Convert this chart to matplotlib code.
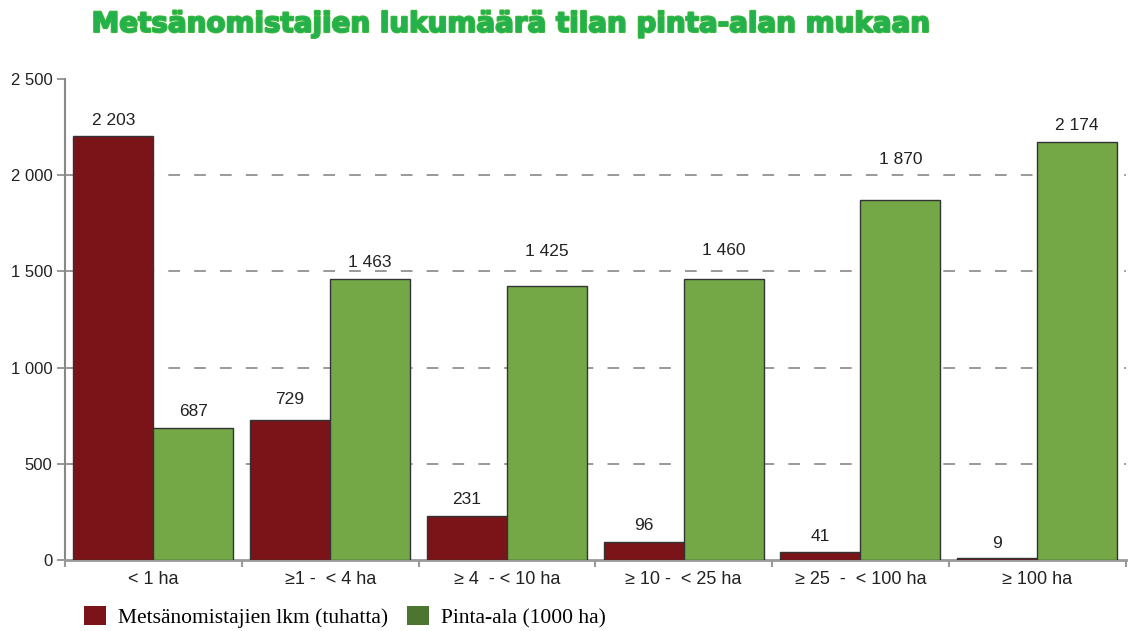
import numpy as np
import matplotlib.pyplot as plt
import matplotlib.patheffects as pe
from matplotlib.patches import Patch

categories = ['< 1 ha', '≥1 -  < 4 ha', '≥ 4  - < 10 ha', '≥ 10 -  < 25 ha', '≥ 25  -  < 100 ha', '≥ 100 ha']
omistajat = [2203, 729, 231, 96, 41, 9]
pinta_ala = [687, 1463, 1425, 1460, 1870, 2174]
series_names = ['Metsänomistajien lkm (tuhatta)', 'Pinta-ala (1000 ha)']
yticks = [0, 500, 1000, 1500, 2000, 2500]

# label gap above bar (points), the source chart isn't consistent
gap_red = [6, 9, 6, 6, 6, 5]
gap_green = [6, 6, 19, 15, 24, 6]

red = '#7a1418'
green = '#74a846'
legend_green = '#4b7530'

def fmt(v):
    return f'{v:,}'.replace(',', ' ')

plt.rcParams['font.family'] = ['Liberation Sans', 'DejaVu Sans']

fig = plt.figure(figsize=(11.33, 6.31), dpi=100)
ax = fig.add_axes([0.0574, 0.1125, 0.936, 0.7623])

x = np.arange(len(categories))
w = 0.453
b1 = ax.bar(x - w / 2, omistajat, w, color=red, edgecolor='#333333', linewidth=1, zorder=3)
b2 = ax.bar(x + w / 2, pinta_ala, w, color=green, edgecolor='#333333', linewidth=1, zorder=3)

for bars, vals, gaps in [(b1, omistajat, gap_red), (b2, pinta_ala, gap_green)]:
    for r, v, g in zip(bars, vals, gaps):
        ax.annotate(fmt(v), (r.get_x() + r.get_width() / 2, v), xytext=(0, g),
                    textcoords='offset points', ha='center', va='bottom',
                    fontsize=12.5, color='#222222')

ax.set_xlim(-0.5, len(categories) - 0.5)
ax.set_ylim(0, 2500)
ax.set_yticks(yticks)
ax.set_yticklabels([fmt(t) for t in yticks], fontsize=12, color='#222222')
ax.set_xticks(x)
ax.set_xticklabels(categories, fontsize=13, color='#222222')
ax.tick_params(axis='x', length=0, pad=8)
ax.set_xticks(np.arange(len(categories) + 1) - 0.5, minor=True)
ax.tick_params(axis='x', which='minor', length=5, color='#999999', width=1.5)
ax.tick_params(axis='y', length=6, color='#888888', width=1.2, pad=3)

for t in yticks[1:-1]:
    ax.axhline(t, color='#888888', linestyle=(0, (7, 8.5)), linewidth=1.2, zorder=1)

for s in ['top', 'right']:
    ax.spines[s].set_visible(False)
ax.spines['left'].set_color('#888888')
ax.spines['left'].set_linewidth(1.5)
ax.spines['bottom'].set_color('#999999')
ax.spines['bottom'].set_linewidth(2)

fig.text(0.451, 0.962, 'Metsänomistajien lukumäärä tilan pinta-alan mukaan', ha='center', va='center',
         fontsize=20, fontweight='heavy', color='#22b14c', family='DejaVu Sans',
         path_effects=[pe.withStroke(linewidth=1.5, foreground='#3cb83c')])

handles = [Patch(facecolor=red, edgecolor='none'), Patch(facecolor=legend_green, edgecolor='none')]
fig.legend(handles, series_names, loc='center left', bbox_to_anchor=(0.0574, 0.022), ncol=2,
           frameon=False, prop={'family': 'Liberation Serif', 'size': 15.5},
           handlelength=1.0, handleheight=1.0, columnspacing=0.9, handletextpad=0.55)

fig.savefig('out.png', dpi=100)
